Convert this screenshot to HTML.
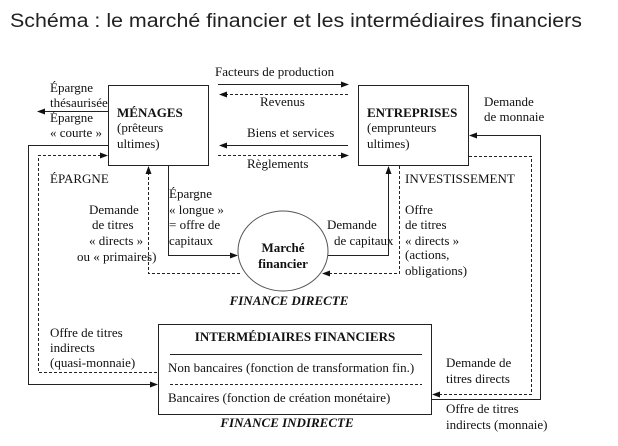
<!DOCTYPE html>
<html><head><meta charset="utf-8"><style>
html,body{margin:0;padding:0;background:#fff;}
svg{display:block;}
text{font-family:"Liberation Serif",serif;font-size:13px;fill:#111;}
.b{font-weight:bold;}
.bi{font-weight:bold;font-style:italic;}
</style></head><body>
<svg width="618" height="446" viewBox="0 0 618 446" xmlns="http://www.w3.org/2000/svg">
<defs>
<marker id="a" markerWidth="8" markerHeight="6" refX="7" refY="3" orient="auto" markerUnits="userSpaceOnUse"><path d="M0,0 L8,3 L0,6 z" fill="#111"/></marker>
</defs>
<text x="10" y="27" style="font-family:'Liberation Sans',sans-serif;font-size:19px;fill:#222" textLength="572" lengthAdjust="spacingAndGlyphs">Schéma : le marché financier et les intermédiaires financiers</text>

<g stroke="#222" stroke-width="1" fill="none">
<rect x="108.5" y="85.5" width="100" height="80"/>
<rect x="358.5" y="85.5" width="110" height="80"/>
<rect x="158.5" y="324.5" width="273" height="90"/>
<ellipse cx="283" cy="251" rx="45" ry="40" stroke="#555"/>
<path d="M218,84.5 H348" marker-end="url(#a)"/>
<path d="M348,94.5 H220" stroke-dasharray="3,2" marker-end="url(#a)"/>
<path d="M348,145.5 H220" marker-end="url(#a)"/>
<path d="M218,155.5 H348" stroke-dasharray="3,2" marker-end="url(#a)"/>
<path d="M108,111.5 H38" marker-end="url(#a)"/>
<path d="M108,145.5 H28.5 V384.5 H157" marker-end="url(#a)"/>
<path d="M157,372.5 H38.5 V155.5 H107" stroke-dasharray="3,2" marker-end="url(#a)"/>
<path d="M168.5,166 V255.5 H237" marker-end="url(#a)"/>
<path d="M240,273.5 H148.5 V167" stroke-dasharray="3,2" marker-end="url(#a)"/>
<path d="M328,255.5 H388.5 V167" marker-end="url(#a)"/>
<path d="M399.5,166 V273.5 H323" stroke-dasharray="3,2" marker-end="url(#a)"/>
<path d="M432,399.5 H540.5 V135.5 H470" marker-end="url(#a)"/>
<path d="M469,156.5 H531.5 V394.5 H433" stroke-dasharray="3,2" marker-end="url(#a)"/>
<path d="M170,354.5 H422"/>
<path d="M170,384.5 H422" stroke-dasharray="3,2"/>
</g>

<text x="215" y="76">Facteurs de production</text>
<text x="260" y="106">Revenus</text>
<text x="247" y="137">Biens et services</text>
<text x="247" y="168">Règlements</text>

<text x="50" y="92">Épargne</text>
<text x="50" y="107">thésaurisée</text>
<text x="50" y="122">Épargne</text>
<text x="50" y="137">« courte »</text>

<text x="117" y="117" class="b">MÉNAGES</text>
<text x="117" y="132">(prêteurs</text>
<text x="117" y="148">ultimes)</text>

<text x="367" y="117" class="b">ENTREPRISES</text>
<text x="367" y="132">(emprunteurs</text>
<text x="367" y="148">ultimes)</text>

<text x="484" y="106">Demande</text>
<text x="484" y="121">de monnaie</text>

<text x="50" y="183">ÉPARGNE</text>
<text x="89" y="214">Demande</text>
<text x="92" y="229">de titres</text>
<text x="89" y="245">« directs »</text>
<text x="77" y="261">ou « primaires)</text>

<text x="169" y="198">Épargne</text>
<text x="169" y="214">« longue »</text>
<text x="169" y="229">= offre de</text>
<text x="169" y="245">capitaux</text>

<text x="283" y="252" class="b" text-anchor="middle">Marché</text>
<text x="283" y="268" class="b" text-anchor="middle">financier</text>

<text x="327" y="229">Demande</text>
<text x="334" y="245">de capitaux</text>

<text x="405" y="183">INVESTISSEMENT</text>
<text x="405" y="214">Offre</text>
<text x="405" y="229">de titres</text>
<text x="405" y="245">« directs »</text>
<text x="405" y="259">(actions,</text>
<text x="405" y="275">obligations)</text>

<text x="289" y="305" class="bi" text-anchor="middle">FINANCE DIRECTE</text>

<text x="50" y="337">Offre de titres</text>
<text x="50" y="352">indirects</text>
<text x="50" y="367">(quasi-monnaie)</text>

<text x="295" y="341" class="b" text-anchor="middle">INTERMÉDIAIRES FINANCIERS</text>
<text x="168" y="372">Non bancaires (fonction de transformation fin.)</text>
<text x="168" y="402">Bancaires (fonction de création monétaire)</text>
<text x="287" y="427" class="bi" text-anchor="middle">FINANCE INDIRECTE</text>

<text x="446" y="367">Demande de</text>
<text x="446" y="383">titres directs</text>
<text x="446" y="413">Offre de titres</text>
<text x="446" y="429">indirects (monnaie)</text>
</svg>
</body></html>
